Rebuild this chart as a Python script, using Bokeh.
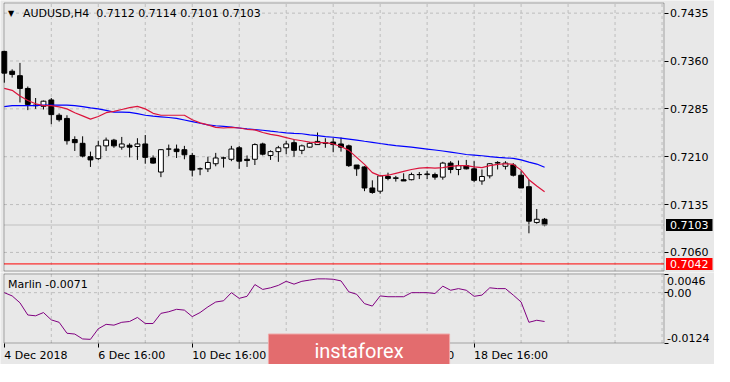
from bokeh.plotting import figure
from bokeh.layouts import column
from bokeh.models import (Range1d, FixedTicker, Label, ColumnDataSource, LinearAxis,
                          PrintfTickFormatter, BoxAnnotation)
from bokeh.embed import file_html
from bokeh.resources import INLINE

# ---------------- data ----------------
symbol = "AUDUSD,H4"
bars = list(range(70))
opens = [0.7375, 0.7344, 0.7337, 0.7317, 0.7291, 0.7289, 0.7299, 0.7275, 0.7270, 0.7237,
         0.7231, 0.7210, 0.7207, 0.7227, 0.7236, 0.7225, 0.7228, 0.7226, 0.7230, 0.7208,
         0.7186, 0.7222, 0.7222, 0.7221, 0.7212, 0.7191, 0.7191, 0.7199, 0.7208, 0.7206,
         0.7224, 0.7206, 0.7206, 0.7230, 0.7212, 0.7218, 0.7224, 0.7232, 0.7220, 0.7225,
         0.7229, 0.7232, 0.7233, 0.7230, 0.7227, 0.7197, 0.7194, 0.7161, 0.7156, 0.7179,
         0.7176, 0.7174, 0.7174, 0.7182, 0.7182, 0.7182, 0.7178, 0.7200, 0.7190, 0.7196,
         0.7191, 0.7172, 0.7180, 0.7200, 0.7195, 0.7197, 0.7181, 0.7163, 0.7107, 0.7112]
highs = [0.7376, 0.7347, 0.7357, 0.7320, 0.7302, 0.7298, 0.7302, 0.7278, 0.7275, 0.7242,
         0.7242, 0.7218, 0.7235, 0.7240, 0.7238, 0.7241, 0.7231, 0.7239, 0.7244, 0.7212,
         0.7222, 0.7229, 0.7229, 0.7227, 0.7216, 0.7193, 0.7210, 0.7216, 0.7210, 0.7227,
         0.7227, 0.7212, 0.7231, 0.7232, 0.7220, 0.7227, 0.7235, 0.7237, 0.7229, 0.7233,
         0.7248, 0.7239, 0.7239, 0.7240, 0.7229, 0.7197, 0.7195, 0.7173, 0.7181, 0.7185,
         0.7180, 0.7184, 0.7185, 0.7186, 0.7188, 0.7185, 0.7202, 0.7203, 0.7204, 0.7205,
         0.7203, 0.7190, 0.7200, 0.7203, 0.7203, 0.7200, 0.7188, 0.7174, 0.7128, 0.7114]
lows = [0.7326, 0.7334, 0.7295, 0.7283, 0.7285, 0.7284, 0.7261, 0.7265, 0.7229, 0.7219,
        0.7209, 0.7194, 0.7205, 0.7219, 0.7224, 0.7221, 0.7209, 0.7205, 0.7199, 0.7199,
        0.7178, 0.7211, 0.7208, 0.7206, 0.7179, 0.7181, 0.7186, 0.7195, 0.7193, 0.7203,
        0.7191, 0.7194, 0.7197, 0.7212, 0.7205, 0.7202, 0.7214, 0.7210, 0.7214, 0.7224,
        0.7229, 0.7224, 0.7217, 0.7218, 0.7194, 0.7180, 0.7156, 0.7152, 0.7152, 0.7173,
        0.7171, 0.7172, 0.7173, 0.7175, 0.7175, 0.7174, 0.7174, 0.7184, 0.7181, 0.7190,
        0.7170, 0.7166, 0.7176, 0.7190, 0.7190, 0.7179, 0.7161, 0.7090, 0.7105, 0.7101]
closes = [0.7341, 0.7339, 0.7317, 0.7292, 0.7290, 0.7297, 0.7276, 0.7268, 0.7235, 0.7232,
          0.7211, 0.7205, 0.7227, 0.7236, 0.7227, 0.7230, 0.7225, 0.7230, 0.7209, 0.7200,
          0.7221, 0.7222, 0.7218, 0.7213, 0.7189, 0.7191, 0.7201, 0.7208, 0.7208, 0.7222,
          0.7203, 0.7204, 0.7229, 0.7214, 0.7218, 0.7224, 0.7230, 0.7220, 0.7227, 0.7231,
          0.7234, 0.7231, 0.7229, 0.7225, 0.7196, 0.7191, 0.7161, 0.7154, 0.7180, 0.7176,
          0.7177, 0.7172, 0.7182, 0.7182, 0.7183, 0.7178, 0.7200, 0.7190, 0.7196, 0.7191,
          0.7173, 0.7179, 0.7199, 0.7201, 0.7200, 0.7181, 0.7161, 0.7109, 0.7112, 0.7103]
ma_fast = [0.7317, 0.7314, 0.7305, 0.7298, 0.7293, 0.7290, 0.7290, 0.7288, 0.7285, 0.7279,
           0.7274, 0.7269, 0.7273, 0.7279, 0.7281, 0.7284, 0.7287, 0.7289, 0.7285, 0.7278,
           0.7275, 0.7275, 0.7275, 0.7275, 0.7268, 0.7263, 0.7260, 0.7256, 0.7255, 0.7256,
           0.7255, 0.7253, 0.7252, 0.7248, 0.7245, 0.7243, 0.7240, 0.7237, 0.7235, 0.7233,
           0.7232, 0.7232, 0.7230, 0.7226, 0.7220, 0.7209, 0.7198, 0.7185, 0.7180, 0.7181,
           0.7184, 0.7187, 0.7190, 0.7192, 0.7193, 0.7192, 0.7193, 0.7195, 0.7196, 0.7196,
           0.7194, 0.7193, 0.7196, 0.7198, 0.7199, 0.7198, 0.7189, 0.7174, 0.7164, 0.7155]
ma_slow = [0.72885, 0.7290, 0.7290, 0.7290, 0.7290, 0.7291, 0.7291, 0.7291, 0.7291, 0.7290,
           0.72885, 0.72865, 0.7285, 0.72825, 0.7280, 0.7280, 0.72795, 0.72775, 0.7275, 0.72735,
           0.72725, 0.72715, 0.7270, 0.72675, 0.7265, 0.72625, 0.7260, 0.72585, 0.72575, 0.72565,
           0.7255, 0.72535, 0.72525, 0.72515, 0.7250, 0.72487, 0.72475, 0.72467, 0.7246, 0.72442,
           0.7243, 0.72415, 0.72405, 0.7239, 0.72375, 0.7236, 0.72342, 0.72325, 0.72307, 0.7229,
           0.72275, 0.72262, 0.72249, 0.72235, 0.7222, 0.72205, 0.7219, 0.72172, 0.72154, 0.72135,
           0.72125, 0.72115, 0.72101, 0.7209, 0.72082, 0.72075, 0.7205, 0.72015, 0.71985, 0.71935]
marlin = [0.0000, -0.0008, -0.0025, -0.0055, -0.0057, -0.0049, -0.0067, -0.0073, -0.0100, -0.0102,
          -0.0114, -0.0115, -0.0089, -0.0078, -0.0080, -0.0073, -0.0071, -0.0061, -0.0076, -0.0076,
          -0.0051, -0.0047, -0.0041, -0.0043, -0.0059, -0.0049, -0.0035, -0.0023, -0.0020, 0.0000,
          -0.0014, -0.0009, 0.0020, 0.0008, 0.0012, 0.0018, 0.0028, 0.0021, 0.0028, 0.0031,
          0.0034, 0.0034, 0.0033, 0.0029, 0.0002, -0.0004, -0.0027, -0.0033, -0.0008, -0.0010,
          -0.0010, -0.0010, 0.0000, 0.0000, 0.0000, -0.0002, 0.0016, 0.0006, 0.0010, 0.0006,
          -0.0009, -0.0006, 0.0012, 0.0010, 0.0010, -0.0006, -0.0023, -0.0073, -0.0068, -0.0071]
marlin_name = "Marlin"

price_ticks = [0.7060, 0.7135, 0.7210, 0.7285, 0.7360, 0.7435]
osc_ticks = [0.0046, 0.0, -0.0124]
osc_tick_labels = ["0.0046", "0.00", "-0.0124"]
time_ticks = [0, 12, 24, 36, 48, 60]
time_labels = ["4 Dec 2018", "6 Dec 16:00", "10 Dec 16:00", "12 Dec 16:00",
               "14 Dec 16:00", "18 Dec 16:00"]
grid_bars = list(range(6, 85, 6))
last_price = 0.7103
alert_price = 0.7042
watermark = "instaforex"

# ---------------- style / geometry ----------------
BG = "#e8e8e8"
GRID = "#bdbdbd"
FONT = "DejaVu Sans"
FS = "11px"
W = 714
MAIN_H, SUB_H = 272, 92
X0, X1 = -0.04, 84.25            # visible bars in the chart box
PY0, PY1 = 0.70309, 0.74509       # price box
OY0, OY1 = -0.0124, 0.0046        # oscillator box
BOX_LEFT, BOX_W = 3.5, 660.0      # chart box in px
MAIN_TOP, MAIN_BOX_H = 2.5, 268.0
SUB_TOP, SUB_BOX_H = 1.5, 69.0

ppb = BOX_W / (X1 - X0)
xs0 = X0 - BOX_LEFT / ppb
x_range = Range1d(xs0, xs0 + W / ppb)
ppu = MAIN_BOX_H / (PY1 - PY0)
py_top = PY1 + MAIN_TOP / ppu
main_y = Range1d(py_top - MAIN_H / ppu, py_top)
ppo = SUB_BOX_H / (OY1 - OY0)
oy_top = OY1 + SUB_TOP / ppo
sub_y = Range1d(oy_top - SUB_H / ppo, oy_top)


def base_fig(h, yr):
    f = figure(width=W, height=h, x_range=x_range, y_range=yr,
               x_axis_location=None, y_axis_location=None,
               output_backend="svg", toolbar_location=None, min_border=0,
               background_fill_color=BG, border_fill_color=BG, outline_line_color=None)
    f.grid.visible = False
    return f


def axis_style(ax):
    ax.axis_line_color = None
    ax.major_tick_out = 4
    ax.major_tick_in = 0
    ax.major_tick_line_color = "black"
    ax.major_label_text_font = FONT
    ax.major_label_text_font_size = FS
    ax.major_label_text_color = "black"


# ---------------- main panel ----------------
p = base_fig(MAIN_H, main_y)
p.segment(x0=grid_bars, y0=PY0, x1=grid_bars, y1=PY1, line_color=GRID, line_dash="3 3")
p.segment(x0=X0, y0=price_ticks, x1=X1, y1=price_ticks, line_color=GRID, line_dash="3 3")

yax = LinearAxis(fixed_location=X1, ticker=FixedTicker(ticks=price_ticks, minor_ticks=[]),
                 formatter=PrintfTickFormatter(format="%.4f"), major_label_standoff=2)
axis_style(yax)
p.add_layout(yax, "right")

src = ColumnDataSource(dict(
    x=bars, o=opens, h=highs, l=lows, c=closes,
    top=[max(a, b) for a, b in zip(opens, closes)],
    bottom=[min(a, b) for a, b in zip(opens, closes)],
    fill=["white" if c > o else "black" for o, c in zip(opens, closes)],
))
p.segment(x0="x", y0="l", x1="x", y1="h", source=src, line_color="black", line_width=1)
p.vbar(x="x", width=0.62, top="top", bottom="bottom", fill_color="fill",
       line_color="black", line_width=1, source=src)
p.line(bars, ma_slow, line_color="#0000ff", line_width=1.2)
p.line(bars, ma_fast, line_color="#dc143c", line_width=1.2)

p.line([X0, X1], [last_price, last_price], line_color="#c0c0c0", line_width=1)
p.line([X0, X1], [alert_price, alert_price], line_color="#ff0000", line_width=1)

p.add_layout(BoxAnnotation(left=X0, right=X1, bottom=PY0, top=PY1, fill_color=None,
                           line_color="black", line_width=1))

p.add_layout(Label(x=X1, y=last_price, x_offset=2, text=f"{last_price:.4f}",
                   text_align="left", text_baseline="middle", text_font=FONT,
                   text_font_size=FS, text_color="white",
                   background_fill_color="black", padding=(4, 2)))
p.add_layout(Label(x=X1, y=alert_price, x_offset=2, text=f"{alert_price:.4f}",
                   text_align="left", text_baseline="middle", text_font=FONT,
                   text_font_size=FS, text_color="white",
                   background_fill_color="#ff0000", padding=(4, 2)))

header = f"{symbol}\u00a0 {opens[-1]:.4f} {highs[-1]:.4f} {lows[-1]:.4f} {closes[-1]:.4f}"
p.add_layout(Label(x=X0, y=PY1, x_offset=4, y_offset=-10, text="\u25bc",
                   text_baseline="middle", text_font=FONT, text_font_size="8px",
                   text_color="black"))
p.add_layout(Label(x=X0, y=PY1, x_offset=19, y_offset=-10, text=header,
                   text_baseline="middle", text_font=FONT, text_font_size=FS,
                   text_color="black"))

# ---------------- oscillator panel ----------------
s = base_fig(SUB_H, sub_y)
s.segment(x0=grid_bars, y0=OY0, x1=grid_bars, y1=OY1, line_color=GRID, line_dash="3 3")
s.segment(x0=X0, y0=[0.0], x1=X1, y1=[0.0], line_color=GRID, line_dash="3 3")

oax = LinearAxis(fixed_location=X1, ticker=FixedTicker(ticks=osc_ticks, minor_ticks=[]),
                 major_label_overrides={t: "" for t in osc_ticks})
axis_style(oax)
s.add_layout(oax, "right")
xax = LinearAxis(fixed_location=OY0, ticker=FixedTicker(ticks=time_ticks, minor_ticks=[]),
                 major_label_overrides={t: "" for t in time_ticks})
axis_style(xax)
s.add_layout(xax, "below")

s.line(bars, marlin, line_color="#800080", line_width=1)
s.add_layout(BoxAnnotation(left=X0, right=X1, bottom=OY0, top=OY1, fill_color=None,
                           line_color="black", line_width=1))

for t, lab, base, off in zip(osc_ticks, osc_tick_labels, ["top", "middle", "bottom"], [-3, 0, 1]):
    s.add_layout(Label(x=X1, y=t, x_offset=3, y_offset=off, text=lab, text_align="left",
                       text_baseline=base, text_font=FONT, text_font_size=FS,
                       text_color="black"))
for t, lab in zip(time_ticks, time_labels):
    s.add_layout(Label(x=t, y=OY0, y_offset=-12, text=lab, text_align="left",
                       text_baseline="middle", text_font=FONT, text_font_size=FS,
                       text_color="black"))
s.add_layout(Label(x=X0, y=OY1, x_offset=4, y_offset=-10,
                   text=f"{marlin_name} {marlin[-1]:.4f}", text_baseline="middle",
                   text_font=FONT, text_font_size=FS, text_color="black"))
s.add_layout(Label(x=45.3, y=OY0, y_offset=-8, text=watermark, text_align="center",
                   text_baseline="middle", text_font="Roboto", text_font_size="20px",
                   text_color="white", background_fill_color="#e36c6e",
                   border_line_color="#f0a8a8", padding=(46, 5)))

layout = column(p, s, spacing=0)
open("out.html", "w").write(file_html(layout, INLINE))
